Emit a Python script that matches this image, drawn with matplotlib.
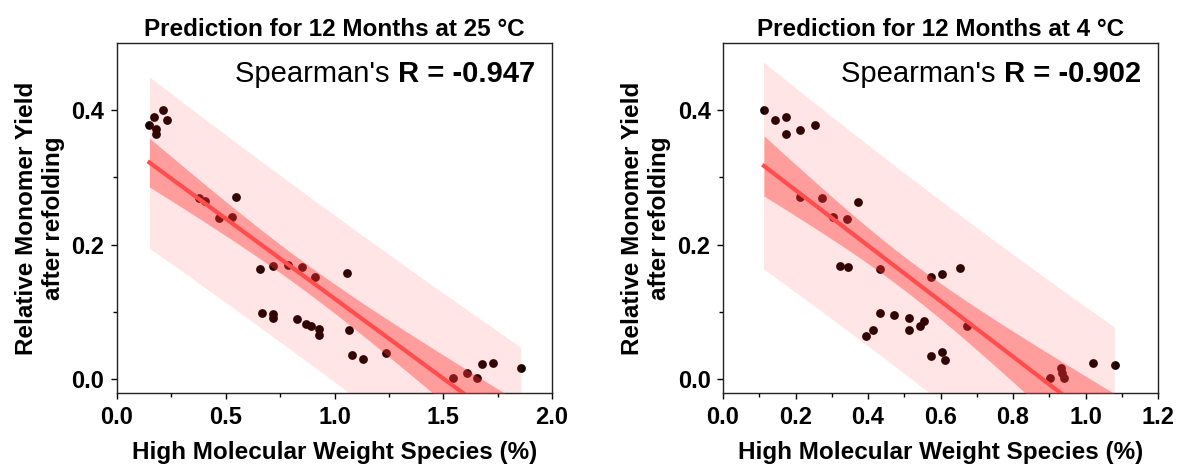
import numpy as np
import matplotlib.pyplot as plt

plt.rcParams["font.family"] = ["Liberation Sans", "DejaVu Sans"]

# HMW species (%) vs relative monomer yield after refolding, 12 months at 25 C
hmw_25 = [0.149, 0.172, 0.181, 0.181, 0.21, 0.23, 0.378, 0.406, 0.47, 0.529,
          0.549, 0.657, 0.668, 0.719, 0.719, 0.719, 0.788, 0.829, 0.849, 0.869,
          0.89, 0.91, 0.929, 0.929, 1.056, 1.068, 1.079, 1.13, 1.237, 1.546,
          1.608, 1.657, 1.677, 1.727, 1.857]
yield_25 = [0.378, 0.39, 0.372, 0.365, 0.4, 0.386, 0.269, 0.265, 0.239, 0.2415,
            0.271, 0.164, 0.0987, 0.168, 0.0967, 0.091, 0.17, 0.0888, 0.166, 0.0814,
            0.078, 0.152, 0.074, 0.065, 0.157, 0.073, 0.0357, 0.029, 0.039, 0.002,
            0.0085, 0.002, 0.022, 0.023, 0.016]

# same at 4 C
hmw_4 = [0.113, 0.143, 0.173, 0.173, 0.213, 0.253, 0.213, 0.273, 0.303, 0.343,
         0.372, 0.323, 0.344, 0.433, 0.573, 0.603, 0.653, 0.672, 0.433, 0.473,
         0.513, 0.513, 0.543, 0.554, 0.413, 0.394, 0.573, 0.603, 0.613, 0.902,
         0.932, 0.934, 0.94, 1.022, 1.081]
yield_4 = [0.4, 0.385, 0.39, 0.365, 0.371, 0.378, 0.271, 0.269, 0.2415, 0.2385,
           0.264, 0.168, 0.167, 0.163, 0.151, 0.156, 0.165, 0.078, 0.098, 0.095,
           0.091, 0.073, 0.079, 0.0868, 0.073, 0.0645, 0.0347, 0.0397, 0.028, 0.001,
           0.016, 0.0085, 0.001, 0.023, 0.021]

titles = ["Prediction for 12 Months at 25 \u00b0C", "Prediction for 12 Months at 4 \u00b0C"]
spearman_r = ["-0.947", "-0.902"]
xlims = [(0, 2.0), (0, 1.2)]
xmajor = [0.5, 0.2]
T_CRIT = 2.035  # t(0.975, df=33)


def linfit_bands(x, y, xs):
    x, y = np.asarray(x), np.asarray(y)
    n = len(x)
    b, a = np.polyfit(x, y, 1)
    resid = y - (a + b * x)
    s = np.sqrt(np.sum(resid**2) / (n - 2))
    sxx = np.sum((x - x.mean()) ** 2)
    yhat = a + b * xs
    se_mean = s * np.sqrt(1 / n + (xs - x.mean()) ** 2 / sxx)
    se_pred = s * np.sqrt(1 + 1 / n + (xs - x.mean()) ** 2 / sxx)
    return yhat, T_CRIT * se_mean, T_CRIT * se_pred


def draw_panel(ax, x, y, title, r, xlim, step):
    ax.scatter(x, y, s=40, color="#160000", zorder=1, linewidths=0)
    xs = np.linspace(min(x), max(x), 200)
    yhat, ci, pi = linfit_bands(x, y, xs)
    # prediction band, confidence band, then the fit on top
    ax.fill_between(xs, yhat - pi, yhat + pi, color="#ff3030", alpha=0.12,
                    linewidth=0, zorder=2)
    ax.fill_between(xs, yhat - ci, yhat + ci, color="#ff3030", alpha=0.4,
                    linewidth=0, zorder=3)
    ax.plot(xs, yhat, color="#ff4d4d", linewidth=3, zorder=4)

    ax.set_xlim(*xlim)
    ax.set_ylim(-0.021, 0.5)
    ax.set_xticks(np.arange(xlim[0], xlim[1] + 1e-9, step))
    ax.set_xticks(np.arange(xlim[0], xlim[1] + 1e-9, step / 2), minor=True)
    ax.set_yticks([0.0, 0.2, 0.4])
    ax.set_yticks([0.1, 0.3], minor=True)
    ax.xaxis.set_major_formatter(plt.FormatStrFormatter("%.1f"))
    ax.yaxis.set_major_formatter(plt.FormatStrFormatter("%.1f"))
    ax.tick_params(which="major", direction="out", length=4, width=1,
                   labelsize=17, pad=5)
    ax.tick_params(which="minor", direction="out", length=3, width=1)
    for lab in ax.get_xticklabels() + ax.get_yticklabels():
        lab.set_fontweight("bold")
    for sp in ax.spines.values():
        sp.set_linewidth(1)
        sp.set_color("#222222")

    ax.set_title(title, fontsize=17.5, fontweight="bold", pad=5)
    ax.set_xlabel("High Molecular Weight Species (%)", fontsize=17.5,
                  fontweight="bold", labelpad=9)
    ax.set_ylabel("Relative Monomer Yield\nafter refolding", fontsize=17.5,
                  fontweight="bold", labelpad=5)

    t_bold = ax.text(0.961, 0.87, "R = " + r, transform=ax.transAxes,
                     ha="right", va="bottom", fontsize=21, fontweight="bold")
    ax.annotate("Spearman's ", xy=(0, 0), xycoords=t_bold, ha="right",
                va="bottom", fontsize=21)


fig = plt.figure(figsize=(11.8, 4.68), dpi=100)
ax1 = fig.add_axes([117 / 1180, 75 / 468, 435 / 1180, 350 / 468])
ax2 = fig.add_axes([723 / 1180, 75 / 468, 435 / 1180, 350 / 468])

draw_panel(ax1, hmw_25, yield_25, titles[0], spearman_r[0], xlims[0], xmajor[0])
draw_panel(ax2, hmw_4, yield_4, titles[1], spearman_r[1], xlims[1], xmajor[1])

fig.savefig("out.png", dpi=100)
